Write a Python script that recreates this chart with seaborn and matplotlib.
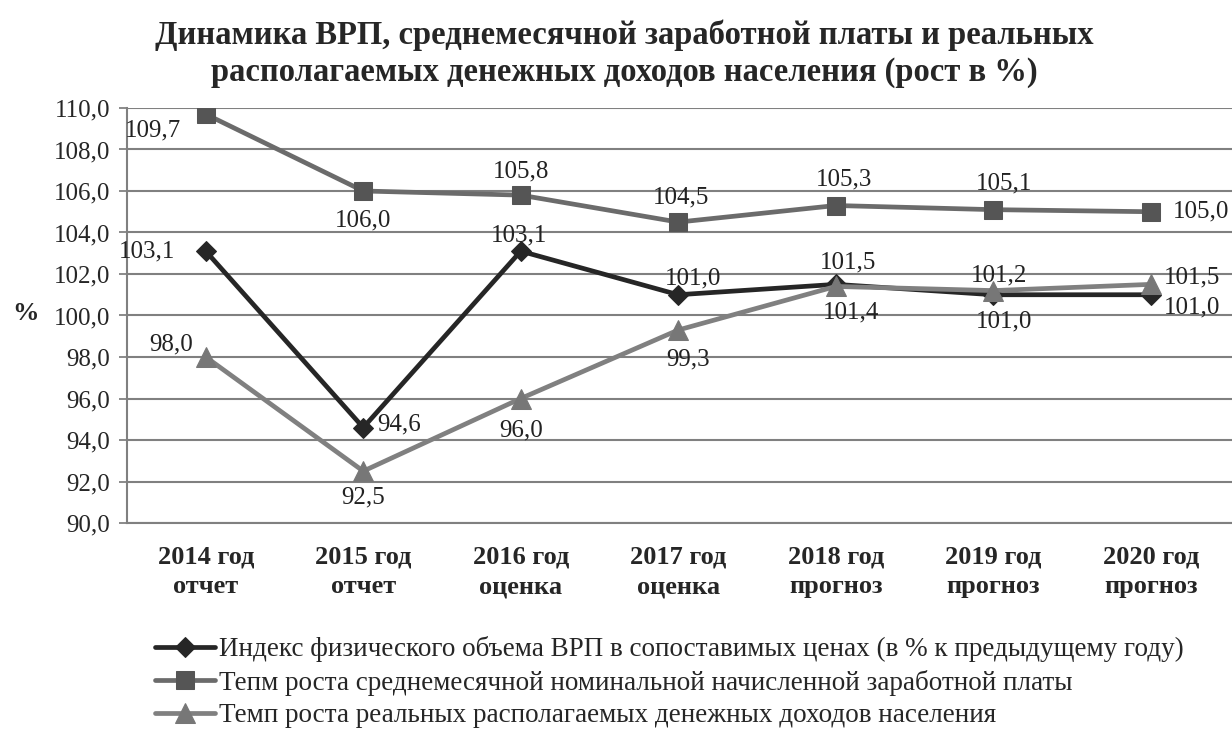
import numpy as np
import pandas as pd
import matplotlib
matplotlib.use('Agg')
import matplotlib.pyplot as plt
import seaborn as sns

# data
years = ['2014 год\nотчет', '2015 год\nотчет', '2016 год\nоценка', '2017 год\nоценка',
         '2018 год\nпрогноз', '2019 год\nпрогноз', '2020 год\nпрогноз']
grp_index = [103.1, 94.6, 103.1, 101.0, 101.5, 101.0, 101.0]
wage_growth = [109.7, 106.0, 105.8, 104.5, 105.3, 105.1, 105.0]
income_growth = [98.0, 92.5, 96.0, 99.3, 101.4, 101.2, 101.5]

names = ['Индекс физического объема ВРП в сопоставимых ценах (в % к предыдущему году)',
         'Тепм роста среднемесячной номинальной начисленной заработной платы',
         'Темп роста реальных располагаемых денежных доходов населения']

# label placement (offset in points) per series
grp_off = [(-42, 0), (26, 2), (-1, 11), (11, 12), (9, 16), (8, -19), (30, -9)]
wage_off = [(-38, -12), (0, -21), (0, 17), (2, 18), (6, 19), (8, 19), (36, 0)]
inc_off = [(-25, 9), (0, -19), (0, -23), (7, -21), (11, -19), (4, 11), (30, 5)]

sns.set_theme(style='white')
plt.rcParams['font.family'] = ['Liberation Serif', 'DejaVu Serif']

fig = plt.figure(figsize=(12.32, 7.32), dpi=100)
ax = fig.add_axes([0.1031, 0.2855, 0.8969, 0.567])

df = pd.DataFrame({'year': years, 'grp': grp_index, 'wage': wage_growth, 'inc': income_growth})
x = np.arange(len(years))

sns.lineplot(x=x, y=df['wage'], ax=ax, color='#6b6b6b', lw=3.4, marker='s', markersize=13,
             markerfacecolor='#555555', markeredgecolor='#555555', label=names[1], zorder=3)
sns.lineplot(x=x, y=df['grp'], ax=ax, color='#262626', lw=3.4, marker='D', markersize=10,
             markerfacecolor='#262626', markeredgecolor='#262626', label=names[0], zorder=3)
sns.lineplot(x=x, y=df['inc'], ax=ax, color='#808080', lw=3.4, marker='^', markersize=14,
             markerfacecolor='#777777', markeredgecolor='#777777', label=names[2], zorder=4)

for vals, offs in [(grp_index, grp_off), (wage_growth, wage_off), (income_growth, inc_off)]:
    for i, (v, o) in enumerate(zip(vals, offs)):
        ax.annotate(f'{v:.1f}'.replace('.', ','), (x[i], v), xytext=o, textcoords='offset points',
                    ha='center', va='center', fontsize=18, color='#222222', zorder=5)

ticks = np.arange(90, 110.1, 2)
ax.set_ylim(90, 110)
ax.set_xlim(-0.5, 6.516)
ax.set_yticks(ticks)
ax.set_yticklabels([f'{t:.1f}'.replace('.', ',') for t in ticks], fontsize=18)
ax.set_xticks(x)
ax.set_xticklabels(years, fontsize=19, fontweight='bold', linespacing=1.38)
ax.set_xticks(np.arange(-0.5, 6.6, 1), minor=True)
ax.tick_params(axis='x', which='major', length=0, pad=16)
ax.tick_params(axis='x', which='minor', length=6, color='#777777', width=1.2)
ax.tick_params(axis='y', length=6, color='#777777', width=1.2, pad=6, left=True)
ax.grid(axis='y', color='#808080', lw=1.5)
ax.set_axisbelow(True)
for s in ['top', 'right']:
    ax.spines[s].set_visible(False)
for s in ['left', 'bottom']:
    ax.spines[s].set_color('#808080')
    ax.spines[s].set_linewidth(1.5)
ax.set_xlabel('')
ax.set_ylabel('%', fontsize=19, fontweight='bold', rotation=0, va='center', ha='center')
ax.yaxis.set_label_coords(-0.092, 0.506)

h, l = ax.get_legend_handles_labels()
lut = dict(zip(l, h))
fig.legend([lut[n] for n in names], names, loc='upper left',
           bbox_to_anchor=(155 / 1232, 1 - 636 / 732), frameon=False, fontsize=19.5,
           handlelength=2.2, handletextpad=0.15, labelspacing=0.28, borderaxespad=0,
           borderpad=0)
ax.get_legend().remove()

fig.text(0.507, 1 - 35 / 732, 'Динамика ВРП, среднемесячной заработной платы и реальных',
         ha='center', va='center', fontsize=23.5, fontweight='bold')
fig.text(0.507, 1 - 72 / 732, 'располагаемых денежных доходов населения (рост в %)',
         ha='center', va='center', fontsize=23.5, fontweight='bold')

fig.savefig('out.png', dpi=100)
